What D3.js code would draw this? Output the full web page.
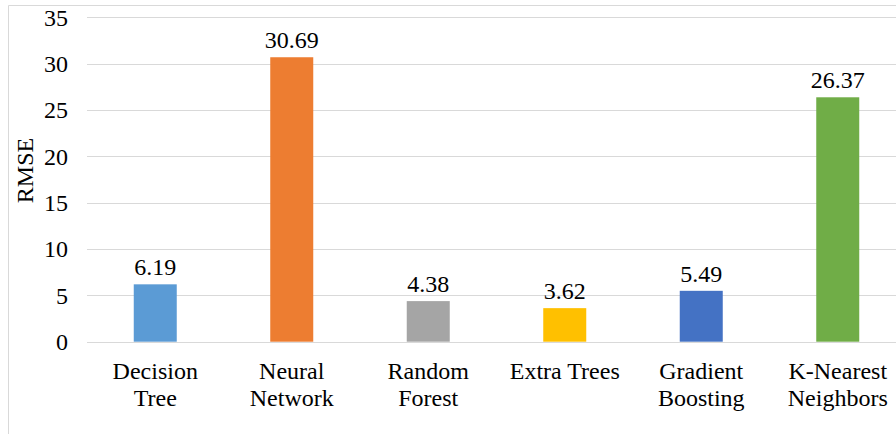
<!DOCTYPE html>
<html>
<head>
<meta charset="utf-8">
<script src="https://cdn.jsdelivr.net/npm/d3@7"></script>
<style>
  html, body { margin: 0; padding: 0; background: #fff; }
  svg { display: block; }
  text { font-family: "Liberation Serif", "Times New Roman", serif; fill: #000; }
</style>
</head>
<body>
<svg id="chart" width="896" height="434"></svg>
<script>
// Model names (two-line labels) and their RMSE values
const models = ["Decision Tree", "Neural Network", "Random Forest", "Extra Trees", "Gradient Boosting", "K-Nearest Neighbors"];
const labelLines = [["Decision", "Tree"], ["Neural", "Network"], ["Random", "Forest"], ["Extra Trees"], ["Gradient", "Boosting"], ["K-Nearest", "Neighbors"]];
const rmse = [6.19, 30.69, 4.38, 3.62, 5.49, 26.37];
const barColors = ["#5B9BD5", "#ED7D31", "#A5A5A5", "#FFC000", "#4472C4", "#70AD47"];
const yTicks = [0, 5, 10, 15, 20, 25, 30, 35];

const svg = d3.select("#chart");

// outer chart frame
svg.append("path")
  .attr("d", "M8.5,434 V5.5 H896")
  .attr("fill", "none")
  .attr("stroke", "#d9d9d9")
  .attr("stroke-width", 1);

const x = d3.scaleBand().domain(models).range([87, 906]).paddingInner(0.685).paddingOuter(0.3425);
const y = d3.scaleLinear().domain([0, 35]).range([341.7, 17.3]);

// horizontal gridlines
svg.append("g")
  .selectAll("line")
  .data(yTicks)
  .join("line")
  .attr("x1", 87)
  .attr("x2", 896)
  .attr("y1", d => Math.round(y(d)) + 0.5)
  .attr("y2", d => Math.round(y(d)) + 0.5)
  .attr("stroke", "#d9d9d9")
  .attr("stroke-width", 1);

// y tick labels
svg.append("g")
  .selectAll("text")
  .data(yTicks)
  .join("text")
  .attr("x", 68)
  .attr("y", d => y(d))
  .attr("dy", "0.35em")
  .attr("text-anchor", "end")
  .attr("font-size", 24)
  .text(d => d);

// y axis title
svg.append("text")
  .attr("transform", "translate(33,170.5) rotate(-90)")
  .attr("text-anchor", "middle")
  .attr("font-size", 24)
  .text("RMSE");

// bars
svg.append("g")
  .selectAll("rect")
  .data(models)
  .join("rect")
  .attr("x", d => x(d))
  .attr("width", x.bandwidth())
  .attr("y", (d, i) => y(rmse[i]))
  .attr("height", (d, i) => y(0) - y(rmse[i]))
  .attr("fill", (d, i) => barColors[i]);

// value labels
svg.append("g")
  .selectAll("text")
  .data(models)
  .join("text")
  .attr("x", d => x(d) + x.bandwidth() / 2)
  .attr("y", (d, i) => y(rmse[i]) - 9)
  .attr("text-anchor", "middle")
  .attr("font-size", 24)
  .text((d, i) => rmse[i].toFixed(2));

// category labels
const cat = svg.append("g")
  .selectAll("text")
  .data(models)
  .join("text")
  .attr("x", d => x(d) + x.bandwidth() / 2)
  .attr("y", 378.5)
  .attr("text-anchor", "middle")
  .attr("font-size", 24);
cat.each(function(d, i) {
  const t = d3.select(this);
  labelLines[i].forEach((line, j) => {
    t.append("tspan")
      .attr("x", x(d) + x.bandwidth() / 2)
      .attr("dy", j === 0 ? 0 : 27.7)
      .text(line);
  });
});
</script>
</body>
</html>
